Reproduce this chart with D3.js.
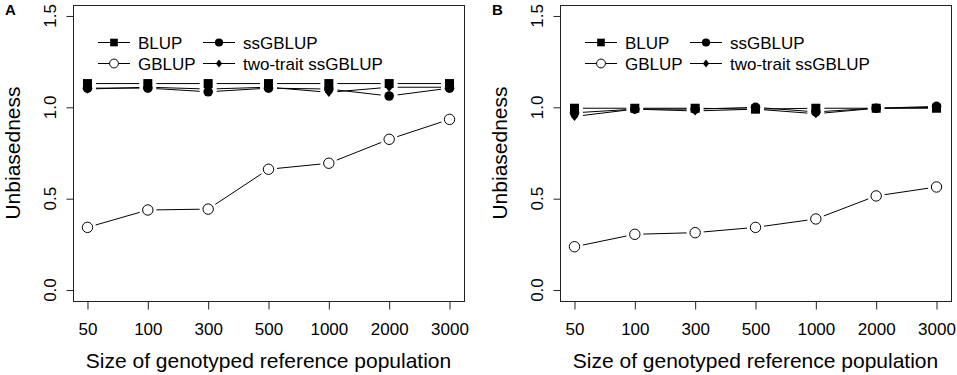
<!DOCTYPE html>
<html>
<head>
<meta charset="utf-8">
<script src="https://cdn.jsdelivr.net/npm/d3@7"></script>
<style>
  body { margin: 0; background: #fff; }
  svg { display: block; font-family: "Liberation Sans", Arial, sans-serif; }
</style>
</head>
<body>
<div id="chart"></div>
<script>
const sizes = ["50", "100", "300", "500", "1000", "2000", "3000"];
const yTicks = [0.0, 0.5, 1.0, 1.5];

// panel A
const blupA     = [1.13, 1.13, 1.13, 1.13, 1.13, 1.13, 1.13];
const gblupA    = [0.343, 0.438, 0.443, 0.661, 0.694, 0.825, 0.934];
const ssgblupA  = [1.105, 1.105, 1.085, 1.105, 1.10, 1.062, 1.105];
const twoTraitA = [1.10, 1.11, 1.10, 1.11, 1.082, 1.11, 1.11];

// panel B
const blupB     = [0.995, 0.995, 0.995, 0.99, 0.995, 0.995, 0.995];
const gblupB    = [0.237, 0.305, 0.314, 0.343, 0.389, 0.515, 0.564];
const ssgblupB  = [0.97, 0.99, 0.99, 1.0, 0.975, 0.995, 1.005];
const twoTraitB = [0.95, 0.99, 0.98, 0.99, 0.965, 0.995, 1.0];

const legendNames = ["BLUP", "ssGBLUP", "GBLUP", "two-trait ssGBLUP"];

(() => {
    const width = 957, height = 375;
    const top = 5, bottom = 301, plotW = 391;

    const svg = d3.select("#chart").append("svg")
        .attr("width", width).attr("height", height);

    const symbol = (g, type, cx, cy, big) => {
        const s = big ? 1 : 0.85;
        if (type === "square") {
            const h = 4.5 * s;
            g.append("rect").attr("x", cx - h).attr("y", cy - h)
                .attr("width", 2 * h).attr("height", 2 * h).attr("fill", "#000");
        } else if (type === "dot") {
            g.append("circle").attr("cx", cx).attr("cy", cy).attr("r", 4.8 * s).attr("fill", "#000");
        } else if (type === "open") {
            g.append("circle").attr("cx", cx).attr("cy", cy).attr("r", 5.2 * s)
                .attr("fill", "#fff").attr("stroke", "#000").attr("stroke-width", 1);
        } else {
            const d = 4.6 * s;
            g.append("path").attr("d", `M${cx},${cy - d}L${cx + d * 0.8},${cy}L${cx},${cy + d}L${cx - d * 0.8},${cy}Z`)
                .attr("fill", "#000");
        }
    };

    const drawPanel = (left, label, series) => {
        const g = svg.append("g");
        const x = d3.scalePoint().domain(sizes).range([left, left + plotW]).padding(0.24);
        const y = d3.scaleLinear().domain([-0.06, 1.56]).range([bottom, top]);

        // box
        g.append("rect").attr("x", left + 0.5).attr("y", top + 0.5)
            .attr("width", plotW).attr("height", bottom - top)
            .attr("fill", "none").attr("stroke", "#222");

        // y axis
        const ya = g.append("g").attr("transform", `translate(${left + 0.5},0)`)
            .call(d3.axisLeft(y).tickValues(yTicks).tickSize(7).tickFormat(d3.format(".1f")));
        ya.select(".domain").remove();
        ya.selectAll("line").attr("stroke", "#222");
        ya.selectAll("text")
            .attr("transform", d => `translate(-18,${y(d)}) rotate(-90)`)
            .attr("x", 0).attr("y", 0).attr("dy", 0)
            .attr("text-anchor", "middle")
            .style("font-size", "17px").style("font-family", "Liberation Sans, Arial, sans-serif")
            .attr("fill", "#000");
        ya.selectAll(".tick").attr("transform", "translate(0,0)");
        ya.selectAll(".tick line").attr("y1", d => y(d) + 0.5).attr("y2", d => y(d) + 0.5);

        // x axis
        const xa = g.append("g").attr("transform", `translate(0,${bottom + 0.5})`)
            .call(d3.axisBottom(x).tickSize(8).tickPadding(13));
        xa.select(".domain").remove();
        xa.selectAll("line").attr("stroke", "#222");
        xa.selectAll("text").style("font-size", "17px")
            .style("font-family", "Liberation Sans, Arial, sans-serif").attr("fill", "#000");

        // titles
        g.append("text").attr("x", left + plotW / 2).attr("y", 368)
            .attr("text-anchor", "middle").style("font-size", "21px")
            .text("Size of genotyped reference population");
        g.append("text").attr("transform", `translate(${left - 53},${(top + bottom) / 2}) rotate(-90)`)
            .attr("text-anchor", "middle").style("font-size", "21px")
            .text("Unbiasedness");
        g.append("text").attr("x", left - 68).attr("y", 15)
            .style("font-size", "15px").style("font-weight", "bold")
            .text(label);

        // series, type="b" style: line segments with gaps round points
        const gap = 8.5;
        series.forEach(s => {
            const pts = s.values.map((v, i) => [x(sizes[i]), y(v)]);
            for (let i = 0; i < pts.length - 1; i++) {
                const [x0, y0] = pts[i], [x1, y1] = pts[i + 1];
                const len = Math.hypot(x1 - x0, y1 - y0);
                if (len <= 2 * gap) continue;
                const ux = (x1 - x0) / len, uy = (y1 - y0) / len;
                g.append("line")
                    .attr("x1", x0 + ux * gap).attr("y1", y0 + uy * gap)
                    .attr("x2", x1 - ux * gap).attr("y2", y1 - uy * gap)
                    .attr("stroke", "#000").attr("stroke-width", 1);
            }
        });
        series.forEach(s => {
            s.values.forEach((v, i) => symbol(g, s.type, x(sizes[i]), y(v), true));
        });

        // legend
        const legend = [
            { name: legendNames[0], type: "square", col: 0, row: 0 },
            { name: legendNames[1], type: "dot", col: 1, row: 0 },
            { name: legendNames[2], type: "open", col: 0, row: 1 },
            { name: legendNames[3], type: "diamond", col: 1, row: 1 }
        ];
        legend.forEach(l => {
            const lx = left + 25 + l.col * 105, ly = 42.5 + l.row * 21;
            g.append("line").attr("x1", lx).attr("x2", lx + 32).attr("y1", ly).attr("y2", ly)
                .attr("stroke", "#000").attr("stroke-width", 1);
            symbol(g, l.type, lx + 16, ly, false);
            g.append("text").attr("x", lx + 40).attr("y", ly + 6)
                .style("font-size", "17px").text(l.name);
        });
    };

    drawPanel(73, "A", [
        { type: "diamond", values: twoTraitA },
        { type: "dot", values: ssgblupA },
        { type: "open", values: gblupA },
        { type: "square", values: blupA }
    ]);
    drawPanel(560, "B", [
        { type: "diamond", values: twoTraitB },
        { type: "dot", values: ssgblupB },
        { type: "open", values: gblupB },
        { type: "square", values: blupB }
    ]);
})();
</script>
</body>
</html>
